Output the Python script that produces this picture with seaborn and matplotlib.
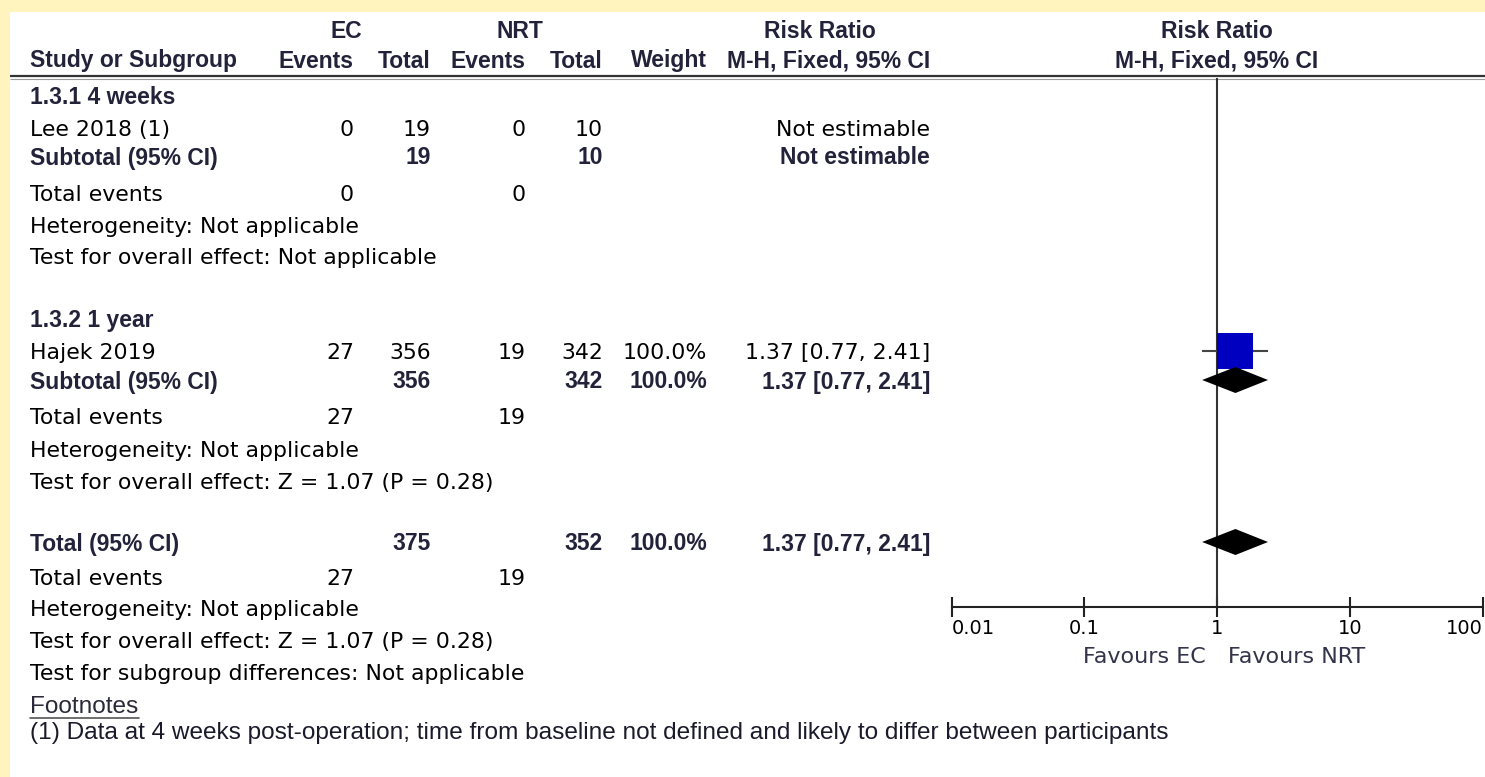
import matplotlib
matplotlib.use("Agg")
import matplotlib.pyplot as plt
from matplotlib.patches import Rectangle
from matplotlib.ticker import NullLocator
import seaborn as sns

sns.set_theme(style="white")
plt.rcParams["font.family"] = ["DejaVu Sans"]

# ---- study data -------------------------------------------------------
subgroup_labels = ["1.3.1 4 weeks", "1.3.2 1 year"]
study_labels = ["Lee 2018 (1)", "Hajek 2019"]
ec_events = [0, 27]
ec_total = [19, 356]
nrt_events = [0, 19]
nrt_total = [10, 342]
study_weight = [None, 100.0]
rr_est = [None, 1.37]
rr_low = [None, 0.77]
rr_high = [None, 2.41]
overall_effect = ["Not applicable", "Z = 1.07 (P = 0.28)"]

total_ec, total_nrt = 375, 352
total_events_ec, total_events_nrt = 27, 19
total_weight = 100.0
total_rr = [1.37, 0.77, 2.41]
total_effect = "Z = 1.07 (P = 0.28)"

axis_ticks = [0.01, 0.1, 1, 10, 100]
axis_tick_labels = ["0.01", "0.1", "1", "10", "100"]
favours = ["Favours EC", "Favours NRT"]
footnote = ("(1) Data at 4 weeks post-operation; time from baseline not defined "
            "and likely to differ between participants")

# ---- layout (pixels) --------------------------------------------------
W, H = 1485, 777
X_LEFT = 30
COL_EC_EV, COL_EC_TOT, COL_NRT_EV, COL_NRT_TOT, COL_W, COL_RR = 354, 431, 526, 603, 707, 930
X_LO, X_HI = 951.5, 1483
Y_TOP_LINE, Y_AXIS = 78, 607
block_rows = [[95, 128, 156, 193, 225, 256], [318, 351, 380, 416, 449, 481]]
total_rows = [542, 577, 608, 640, 672]
Y_FOOT, Y_NOTE = 705, 731

REG = dict(fontsize=15.8, color="#000000", family=["DejaVu Sans"])
BOLD = dict(fontsize=16.5, color="#22223a", fontweight="bold",
            family=["Liberation Sans", "DejaVu Sans"])
NOTE = dict(fontsize=17.6, family=["Liberation Sans", "DejaVu Sans"])

fig = plt.figure(figsize=(W / 100, H / 100), dpi=100)
fig.patch.set_facecolor("#FFF4BD")

ax = fig.add_axes([0, 0, 1, 1])
ax.set_xlim(0, W)
ax.set_ylim(H, 0)
ax.axis("off")
ax.add_patch(Rectangle((10, 12), W - 10, H - 12, facecolor="white", edgecolor="none", zorder=0))


def reg(x, y, s, ha="left", **kw):
    style = dict(REG)
    style.update(kw)
    ax.text(x, y + 8, s, ha=ha, va="baseline", **style)


def bold(x, y, s, ha="left"):
    ax.text(x, y + 8.5, s, ha=ha, va="baseline", **BOLD)


# header
bold(346, 30, "EC", ha="center")
bold(520, 30, "NRT", ha="center")
bold(820, 30, "Risk Ratio", ha="center")
bold(1217, 30, "Risk Ratio", ha="center")
bold(X_LEFT, 59, "Study or Subgroup")
for x, s in zip([COL_EC_EV, COL_EC_TOT, COL_NRT_EV, COL_NRT_TOT, COL_W, COL_RR],
                ["Events", "Total", "Events", "Total", "Weight", "M-H, Fixed, 95% CI"]):
    bold(x, 59, s, ha="right")
bold(1217, 59, "M-H, Fixed, 95% CI", ha="center")
ax.plot([10, W], [76, 76], color="#333333", lw=1.6, solid_capstyle="butt")
ax.plot([10, W], [78.5, 78.5], color="#9a9a9a", lw=0.8, solid_capstyle="butt")


def fmt_rr(e, lo, hi):
    return f"{e:.2f} [{lo:.2f}, {hi:.2f}]"


# subgroup blocks
for i, rows in enumerate(block_rows):
    y_head, y_study, y_sub, y_ev, y_het, y_test = rows
    bold(X_LEFT, y_head, subgroup_labels[i])
    reg(X_LEFT, y_study, study_labels[i])
    reg(COL_EC_EV, y_study, str(ec_events[i]), ha="right")
    reg(COL_EC_TOT, y_study, str(ec_total[i]), ha="right")
    reg(COL_NRT_EV, y_study, str(nrt_events[i]), ha="right")
    reg(COL_NRT_TOT, y_study, str(nrt_total[i]), ha="right")
    if study_weight[i] is not None:
        reg(COL_W, y_study, f"{study_weight[i]:.1f}%", ha="right")
        reg(COL_RR, y_study, fmt_rr(rr_est[i], rr_low[i], rr_high[i]), ha="right")
    else:
        reg(COL_RR, y_study, "Not estimable", ha="right")

    bold(X_LEFT, y_sub, "Subtotal (95% CI)")
    bold(COL_EC_TOT, y_sub, str(ec_total[i]), ha="right")
    bold(COL_NRT_TOT, y_sub, str(nrt_total[i]), ha="right")
    if study_weight[i] is not None:
        bold(COL_W, y_sub, f"{study_weight[i]:.1f}%", ha="right")
        bold(COL_RR, y_sub, fmt_rr(rr_est[i], rr_low[i], rr_high[i]), ha="right")
    else:
        bold(COL_RR, y_sub, "Not estimable", ha="right")

    reg(X_LEFT, y_ev, "Total events")
    reg(COL_EC_EV, y_ev, str(ec_events[i]), ha="right")
    reg(COL_NRT_EV, y_ev, str(nrt_events[i]), ha="right")
    reg(X_LEFT, y_het, "Heterogeneity: Not applicable")
    reg(X_LEFT, y_test, "Test for overall effect: " + overall_effect[i])

# overall block
y_tot, y_ev, y_het, y_test, y_diff = total_rows
bold(X_LEFT, y_tot, "Total (95% CI)")
bold(COL_EC_TOT, y_tot, str(total_ec), ha="right")
bold(COL_NRT_TOT, y_tot, str(total_nrt), ha="right")
bold(COL_W, y_tot, f"{total_weight:.1f}%", ha="right")
bold(COL_RR, y_tot, fmt_rr(*total_rr), ha="right")
reg(X_LEFT, y_ev, "Total events")
reg(COL_EC_EV, y_ev, str(total_events_ec), ha="right")
reg(COL_NRT_EV, y_ev, str(total_events_nrt), ha="right")
reg(X_LEFT, y_het, "Heterogeneity: Not applicable")
reg(X_LEFT, y_test, "Test for overall effect: " + total_effect)
reg(X_LEFT, y_diff, "Test for subgroup differences: Not applicable")

# footnotes
reg(X_LEFT, Y_FOOT, "Footnotes", color="#2a2a3a", **NOTE)
ax.plot([X_LEFT, 139], [Y_FOOT + 13, Y_FOOT + 13], color="#555555", lw=1.2)
reg(X_LEFT, Y_NOTE, footnote, color="#1a1a2a", **NOTE)

# favours labels
ax.text(1206, 657, favours[0], ha="right", va="center", fontsize=16, color="#33334a")
ax.text(1228, 657, favours[1], ha="left", va="center", fontsize=16, color="#33334a")

# ---- forest panel ------------------------------------------------------
axf = fig.add_axes([X_LO / W, (H - Y_AXIS) / H, (X_HI - X_LO) / W, (Y_AXIS - Y_TOP_LINE) / H])
axf.set_xscale("log")
axf.set_xlim(axis_ticks[0], axis_ticks[-1])
axf.set_ylim(Y_AXIS, Y_TOP_LINE)
axf.patch.set_alpha(0)
for side in ["top", "left", "right"]:
    axf.spines[side].set_visible(False)
axf.spines["bottom"].set_color("#222222")
axf.spines["bottom"].set_linewidth(1.5)
axf.set_yticks([])
axf.set_xticks(axis_ticks)
axf.set_xticklabels(axis_tick_labels)
axf.xaxis.set_minor_locator(NullLocator())
axf.tick_params(axis="x", direction="inout", length=15, width=1.5, color="#222222",
                labelsize=14, labelcolor="#000000", pad=1, bottom=True)
tl = axf.get_xticklabels()
tl[0].set_ha("left")
tl[-1].set_ha("right")

axf.axvline(1, color="#333333", lw=1.5, zorder=1)

# study estimate with its confidence interval
y_hajek = block_rows[1][1]
axf.hlines(y_hajek, rr_low[1], rr_high[1], color="#444444", lw=1.5, zorder=2)
sns.scatterplot(x=[rr_est[1]], y=[y_hajek], marker="s", s=36 * 0.72 * 36 * 0.72,
                color="#0000C0", edgecolor="none", ax=axf, zorder=3, legend=False)


def diamond(est, lo, hi, y, h=13):
    axf.fill([lo, est, hi, est], [y, y - h, y, y + h], color="black", lw=0, zorder=3)


diamond(rr_est[1], rr_low[1], rr_high[1], block_rows[1][2])
diamond(*total_rr, total_rows[0])
axf.set_xlabel("")
axf.set_ylabel("")

fig.savefig("out.png", dpi=100, facecolor=fig.get_facecolor())
